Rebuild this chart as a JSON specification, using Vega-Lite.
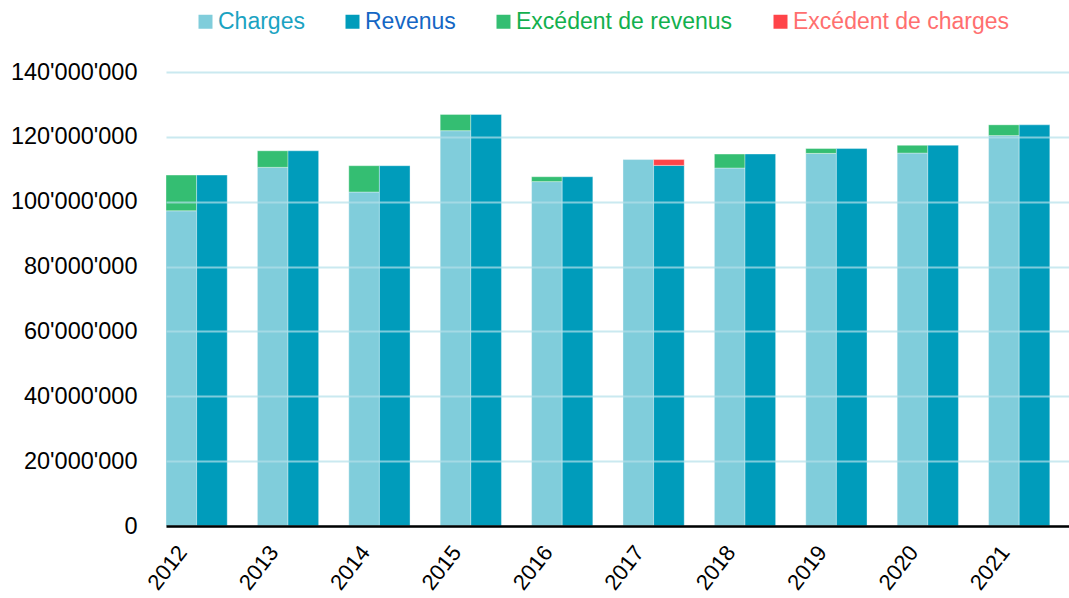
{
  "$schema": "https://vega.github.io/schema/vega-lite/v6.json",
  "autosize": {"type": "none"},
  "padding": {"left": 166, "top": 72, "right": 0, "bottom": 72},
  "width": 903,
  "height": 454,
  "background": "white",
  "data": {
    "values": [
      {"year": "2012", "col": "C", "series": "Charges", "layer": 0, "value": 97200000},
      {"year": "2012", "col": "C", "series": "Excédent de revenus", "layer": 1, "value": 11000000},
      {"year": "2012", "col": "R", "series": "Revenus", "layer": 0, "value": 108200000},
      {"year": "2013", "col": "C", "series": "Charges", "layer": 0, "value": 110600000},
      {"year": "2013", "col": "C", "series": "Excédent de revenus", "layer": 1, "value": 5100000},
      {"year": "2013", "col": "R", "series": "Revenus", "layer": 0, "value": 115700000},
      {"year": "2014", "col": "C", "series": "Charges", "layer": 0, "value": 103000000},
      {"year": "2014", "col": "C", "series": "Excédent de revenus", "layer": 1, "value": 8100000},
      {"year": "2014", "col": "R", "series": "Revenus", "layer": 0, "value": 111100000},
      {"year": "2015", "col": "C", "series": "Charges", "layer": 0, "value": 121900000},
      {"year": "2015", "col": "C", "series": "Excédent de revenus", "layer": 1, "value": 5000000},
      {"year": "2015", "col": "R", "series": "Revenus", "layer": 0, "value": 126900000},
      {"year": "2016", "col": "C", "series": "Charges", "layer": 0, "value": 106200000},
      {"year": "2016", "col": "C", "series": "Excédent de revenus", "layer": 1, "value": 1500000},
      {"year": "2016", "col": "R", "series": "Revenus", "layer": 0, "value": 107700000},
      {"year": "2017", "col": "C", "series": "Charges", "layer": 0, "value": 113000000},
      {"year": "2017", "col": "R", "series": "Revenus", "layer": 0, "value": 111200000},
      {"year": "2017", "col": "R", "series": "Excédent de charges", "layer": 1, "value": 1800000},
      {"year": "2018", "col": "C", "series": "Charges", "layer": 0, "value": 110400000},
      {"year": "2018", "col": "C", "series": "Excédent de revenus", "layer": 1, "value": 4300000},
      {"year": "2018", "col": "R", "series": "Revenus", "layer": 0, "value": 114700000},
      {"year": "2019", "col": "C", "series": "Charges", "layer": 0, "value": 114900000},
      {"year": "2019", "col": "C", "series": "Excédent de revenus", "layer": 1, "value": 1500000},
      {"year": "2019", "col": "R", "series": "Revenus", "layer": 0, "value": 116400000},
      {"year": "2020", "col": "C", "series": "Charges", "layer": 0, "value": 115000000},
      {"year": "2020", "col": "C", "series": "Excédent de revenus", "layer": 1, "value": 2400000},
      {"year": "2020", "col": "R", "series": "Revenus", "layer": 0, "value": 117400000},
      {"year": "2021", "col": "C", "series": "Charges", "layer": 0, "value": 120400000},
      {"year": "2021", "col": "C", "series": "Excédent de revenus", "layer": 1, "value": 3300000},
      {"year": "2021", "col": "R", "series": "Revenus", "layer": 0, "value": 123700000}
    ]
  },
  "mark": {"type": "bar", "stroke": "#ffffff", "strokeOpacity": 0.35, "strokeWidth": 1},
  "encoding": {
    "x": {
      "field": "year",
      "type": "nominal",
      "scale": {"paddingInner": 0.33, "paddingOuter": 0.105, "align": 0},
      "axis": {
        "title": null,
        "labelAngle": -52,
        "labelFont": "Liberation Sans",
        "labelFontSize": 22,
        "labelColor": "#000000",
        "labelPadding": 22,
        "labelOffset": -14,
        "ticks": false,
        "domainColor": "#000000",
        "domainWidth": 2.5,
        "grid": false,
        "zindex": 2
      }
    },
    "xOffset": {
      "field": "col",
      "type": "nominal",
      "scale": {"paddingInner": 0, "paddingOuter": 0}
    },
    "y": {
      "field": "value",
      "type": "quantitative",
      "stack": "zero",
      "scale": {"domain": [0, 140000000], "nice": false},
      "axis": {
        "title": null,
        "values": [0, 20000000, 40000000, 60000000, 80000000, 100000000, 120000000, 140000000],
        "labelExpr": "replace(format(datum.value, ','), /,/g, \"'\")",
        "labelFont": "Liberation Sans",
        "labelFontSize": 23.5,
        "labelColor": "#000000",
        "labelPadding": 29,
        "ticks": false,
        "domain": false,
        "grid": true,
        "gridColor": "#b3e0ea",
        "gridWidth": 2,
        "gridOpacity": 0.7,
        "zindex": 1
      }
    },
    "color": {
      "field": "series",
      "type": "nominal",
      "scale": {
        "domain": ["Charges", "Revenus", "Excédent de revenus", "Excédent de charges"],
        "range": ["#80cddb", "#009cbb", "#34be72", "#ff4449"]
      },
      "legend": {
        "title": null,
        "orient": "none",
        "legendX": 28,
        "legendY": -62,
        "direction": "horizontal",
        "symbolType": "square",
        "symbolSize": 196,
        "symbolStrokeWidth": 0,
        "symbolOpacity": 1,
        "labelFont": "Liberation Sans",
        "labelFontSize": 23,
        "labelOffset": 1,
        "columnPadding": 36,
        "labelLimit": 400,
        "labelColor": {"expr": "datum.value === 'Charges' ? '#1ba3c2' : datum.value === 'Revenus' ? '#1466c4' : datum.value === 'Excédent de revenus' ? '#12b04e' : '#ff6f6f'"}
      }
    },
    "order": {"field": "layer", "type": "quantitative"}
  },
  "config": {"view": {"stroke": null}}
}
